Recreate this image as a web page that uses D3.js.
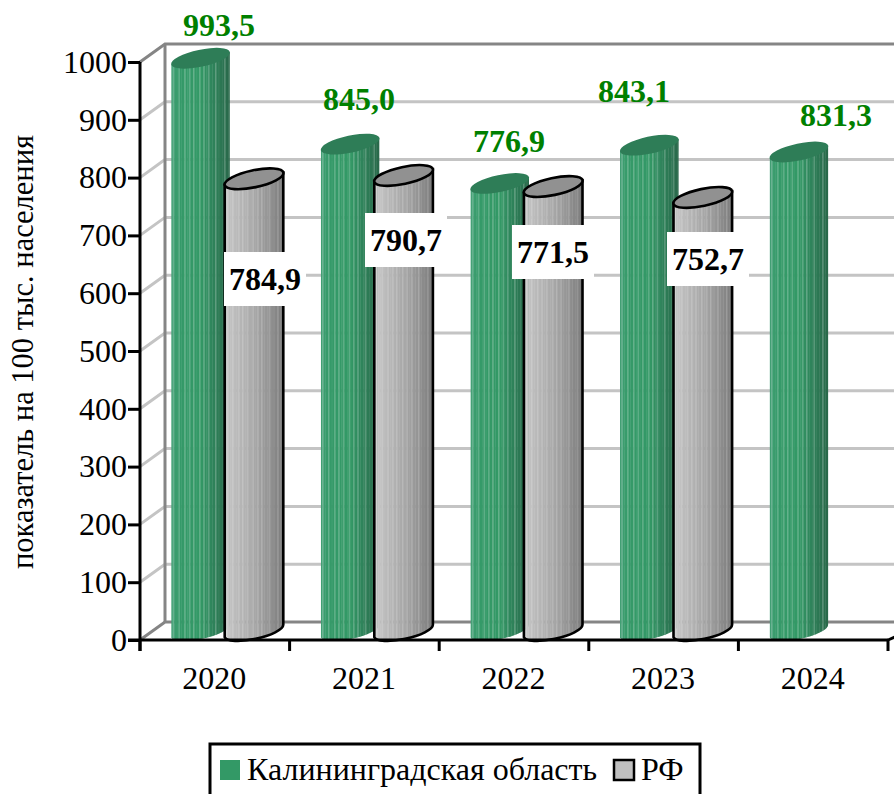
<!DOCTYPE html>
<html><head><meta charset="utf-8">
<script src="https://cdn.jsdelivr.net/npm/d3@7/dist/d3.min.js"></script>
<style>html,body{margin:0;padding:0;background:#fff;overflow:hidden}svg{display:block}text{font-family:"Liberation Serif",serif}</style>
</head><body><div id="c"></div>
<script>
const years=["2020","2021","2022","2023","2024"];
const seriesNames=["Калининградская область","РФ"];
const kaliningrad=[993.5,845.0,776.9,843.1,831.3];
const rf=[784.9,790.7,771.5,752.7,null];
const yTicks=[0,100,200,300,400,500,600,700,800,900,1000];
const axisTitle="показатель на 100 тыс. населения";

const W=894,H=794,dx=25,dy=-18;
const fmt=v=>v.toFixed(1).replace(".",",");
const y=d3.scaleLinear().domain([0,1000]).range([640,62]);
const x=d3.scaleBand().domain(years).range([140,888]);
const xs=d3.scaleBand().domain(seriesNames).range([33.75,140.75]);
const svg=d3.select("#c").append("svg").attr("width",W).attr("height",H);
const defs=svg.append("defs");

// walls
const grid=svg.append("g").attr("fill","none");
yTicks.forEach(t=>{
  const c=(t===0||t===1000)?"#858585":"#c4c4c4";
  grid.append("path").attr("d",`M${140},${y(t)}L${140+dx},${y(t)+dy}L${W+5},${y(t)+dy}`).attr("stroke",c).attr("stroke-width",3);
});
grid.append("path").attr("d",`M${140+dx},${y(1000)+dy}V${y(0)+dy}`).attr("stroke","#858585").attr("stroke-width",3);
grid.append("path").attr("d",`M888,${y(0)}L${W+5},${y(0)-5}`).attr("stroke","#000").attr("stroke-width",3);

// cylinders
const rx=30,ry=8.5,rot=-12,ex=29.3,ey=6.2,liftTop=7.5,liftBase=9;
const stripes=40, highlights=new Set([1,5,9,12,15,19,22,25,30,36]);
const greenRamp=d3.scaleLinear().domain([0,.12,.5,.75,1]).range(["#429f74","#359a69","#339966","#2e8059","#29694a"]);
const grayRamp=d3.scaleLinear().domain([0,.12,.5,.75,1]).range(["#cdcdcd","#bebebe","#a8a8a8","#949494","#7c7c7c"]);
const tops=["#2e7d57","#919191"];
let uid=0;
function cyl(year,si,val){
  if(val==null)return;
  const cx=x(year)+xs(seriesNames[si])+xs.bandwidth()/2;
  const yt=y(val)-liftTop, yb=y(0)-liftBase;
  const body=`M${cx-ex},${yt+ey}L${cx-ex},${yb+ey}A${rx},${ry} ${rot} 0 0 ${cx+ex},${yb-ey}L${cx+ex},${yt-ey}Z`;
  const id="c"+(uid++);
  defs.append("clipPath").attr("id",id).append("path").attr("d",body);
  const g=svg.append("g");
  const ramp=si?grayRamp:greenRamp;
  const sg=g.append("g").attr("clip-path",`url(#${id})`);
  const sw=2*ex/stripes;
  d3.range(stripes).forEach(i=>{
    let c=d3.color(ramp(i/(stripes-1)));
    if(highlights.has(i))c=d3.interpolateRgb(c,"#fff")(si?.14:.2);
    sg.append("rect").attr("x",cx-ex+i*sw).attr("width",sw+.4).attr("y",yt-ry-6).attr("height",yb-yt+2*ry+20).attr("fill",c);
  });
  const stroke=si?"#000":"none";
  g.append("path").attr("d",body).attr("fill","none").attr("stroke",stroke).attr("stroke-width",2.6);
  g.append("ellipse").attr("cx",cx).attr("cy",yt).attr("rx",rx).attr("ry",ry)
   .attr("transform",`rotate(${rot} ${cx} ${yt})`).attr("fill",tops[si]).attr("stroke",stroke).attr("stroke-width",2.6);
}
years.forEach((yr,i)=>{cyl(yr,0,kaliningrad[i]);cyl(yr,1,rf[i]);});

// axes
const axY=svg.append("g").attr("transform","translate(140,0)").call(d3.axisLeft(y).tickValues(yTicks).tickSize(12).tickPadding(1).tickFormat(d3.format("d")));
const axX=svg.append("g").attr("transform","translate(0,640)").call(d3.axisBottom(x).tickSize(0).tickPadding(26));
[axY,axX].forEach(a=>{a.selectAll("path,line").attr("stroke","#000").attr("stroke-width",3);a.select(".domain").remove();a.selectAll("text").attr("font-size",32).attr("font-family","Liberation Serif").attr("fill","#000");});
axX.selectAll("text").attr("dx",-0.5);
svg.append("path").attr("d",`M140,${y(1000)}V651M128,${y(0)}H888`).attr("stroke","#000").attr("stroke-width",3).attr("fill","none");
const edges=x.domain().map(d=>x(d)).concat([x.range()[1]]);
svg.selectAll(".xt").data(edges).enter().append("line").attr("x1",d=>d).attr("x2",d=>d).attr("y1",640).attr("y2",651).attr("stroke","#000").attr("stroke-width",3);

// axis title
svg.append("text").attr("transform","translate(33,352) rotate(-90)").attr("text-anchor","middle").attr("font-size",30.5).text(axisTitle);

// labels
const greenLabelPos=[[219,36],[359,110],[509,152],[634,102],[836,126]];
const grayLabelPos=[[265,290],[406,251],[553,263],[708,270]];
kaliningrad.forEach((v,i)=>svg.append("text").attr("x",greenLabelPos[i][0]).attr("y",greenLabelPos[i][1]).attr("text-anchor","middle").attr("font-size",32).attr("font-weight","bold").attr("fill","#008000").text(fmt(v)));
rf.forEach((v,i)=>{if(v==null)return;
  const p=grayLabelPos[i];
  svg.append("rect").attr("x",p[0]-41).attr("y",p[1]-38).attr("width",82).attr("height",54).attr("fill","#fff");
  svg.append("text").attr("x",p[0]).attr("y",p[1]).attr("text-anchor","middle").attr("font-size",32).attr("font-weight","bold").attr("fill","#000").text(fmt(v));
});

// legend
svg.append("rect").attr("x",210).attr("y",744).attr("width",490).attr("height",70).attr("fill","#fff").attr("stroke","#000").attr("stroke-width",3);
svg.append("rect").attr("x",220).attr("y",760).attr("width",20).attr("height",20).attr("fill","#339966");
svg.append("rect").attr("x",614).attr("y",760).attr("width",20).attr("height",20).attr("fill","#c0c0c0").attr("stroke","#000").attr("stroke-width",2.5);
svg.append("text").attr("x",247).attr("y",780).attr("font-size",32).text(seriesNames[0]);
svg.append("text").attr("x",641).attr("y",780).attr("font-size",32).text(seriesNames[1]);
</script></body></html>
